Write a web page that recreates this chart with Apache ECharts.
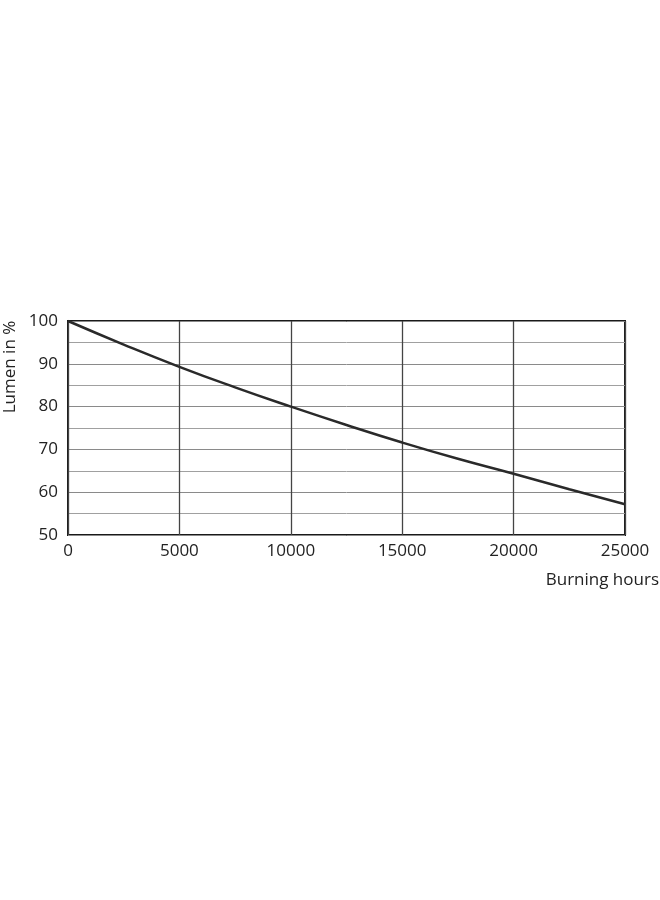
<!DOCTYPE html>
<html>
<head>
<meta charset="utf-8">
<script src="https://cdn.jsdelivr.net/npm/echarts@6/dist/echarts.min.js"></script>
<style>html,body{margin:0;padding:0;background:#fff}#c{width:660px;height:900px}</style>
</head>
<body>
<div id="c"></div>
<script>
const hours = [0, 2500, 5000, 7500, 10000, 12500, 15000, 17500, 20000, 22500, 25000];
const lumen = [100, 94.5, 89.3, 84.5, 80.0, 75.7, 71.6, 67.8, 64.3, 60.7, 57.2];
const xTitle = 'Burning hours';
const yTitle = 'Lumen in %';

const font = '"Open Sans", "Liberation Sans", sans-serif';
const chart = echarts.init(document.getElementById('c'), null, {renderer: 'canvas'});
chart.setOption({
  animation: false,
  backgroundColor: '#fff',
  grid: {left: 68, right: 35, top: 321, bottom: 365, show: true, borderColor: '#1a1a1a', borderWidth: 2, backgroundColor: 'transparent'},
  xAxis: {
    type: 'value', min: 0, max: 25000, interval: 5000,
    axisLine: {show: false}, axisTick: {show: false},
    axisLabel: {margin: 8, fontSize: 17, color: '#222', fontFamily: font, formatter: v => String(v)},
    splitLine: {show: true, lineStyle: {color: '#444', width: 1.3}}
  },
  yAxis: {
    type: 'value', min: 50, max: 100, interval: 10,
    axisLine: {show: false}, axisTick: {show: false},
    axisLabel: {margin: 10, fontSize: 17, color: '#222', fontFamily: font, formatter: v => String(v)},
    splitLine: {show: true, lineStyle: {color: '#8a8a8a', width: 1}},
    minorTick: {show: false, splitNumber: 2},
    minorSplitLine: {show: true, lineStyle: {color: '#a0a0a0', width: 1}}
  },
  graphic: [
    {type: 'text', x: 10, y: 367, rotation: Math.PI / 2,
     style: {text: yTitle, fontSize: 17, fill: '#222', fontFamily: font, align: 'center', verticalAlign: 'middle'}},
    {type: 'text', x: 659, y: 580,
     style: {text: xTitle, fontSize: 17, fill: '#222', fontFamily: font, align: 'right', verticalAlign: 'middle'}}
  ],
  series: [{
    type: 'line', data: hours.map((h, i) => [h, lumen[i]]),
    smooth: true, showSymbol: false, symbol: 'none',
    lineStyle: {color: '#2a2a2a', width: 2.5}
  }]
});
</script>
</body>
</html>
